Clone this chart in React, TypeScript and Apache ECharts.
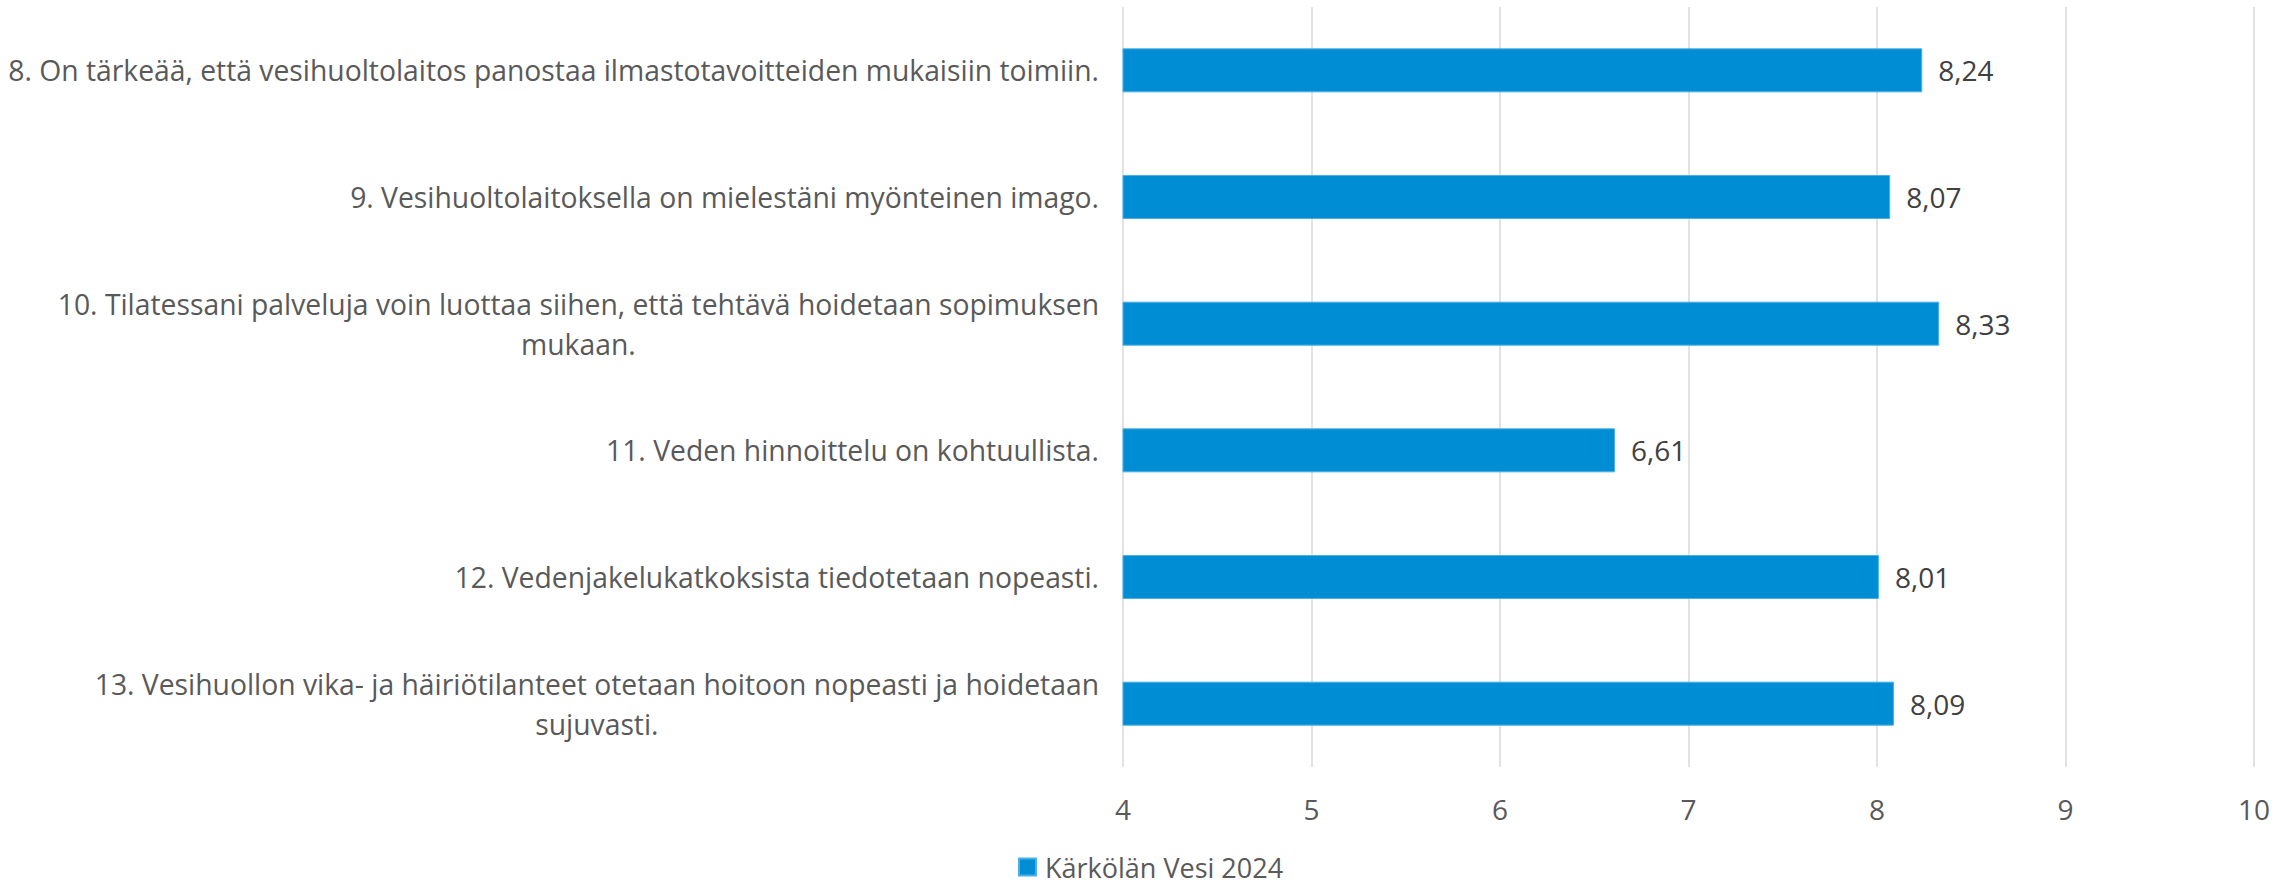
import React, { useEffect, useRef } from "react";
import * as echarts from "echarts";

const categories: string[] = [
  "8. On tärkeää, että vesihuoltolaitos panostaa ilmastotavoitteiden mukaisiin toimiin.",
  "9. Vesihuoltolaitoksella on mielestäni myönteinen imago.",
  "10. Tilatessani palveluja voin luottaa siihen, että tehtävä hoidetaan sopimuksen\nmukaan.",
  "11. Veden hinnoittelu on kohtuullista.",
  "12. Vedenjakelukatkoksista tiedotetaan nopeasti.",
  "13. Vesihuollon vika- ja häiriötilanteet otetaan hoitoon nopeasti ja hoidetaan\nsujuvasti.",
];
const seriesName = "Kärkölän Vesi 2024";
const values: number[] = [8.24, 8.07, 8.33, 6.61, 8.01, 8.09];
const axisMin = 4;
const axisMax = 10;
const axisInterval = 1;

const FONT = "'Open Sans', 'Noto Sans', sans-serif";

export default function App() {
  const ref = useRef<HTMLDivElement>(null);
  useEffect(() => {
    if (!ref.current) return;
    const chart = echarts.init(ref.current, undefined, { renderer: "svg" });
    chart.setOption({
      animation: false,
      textStyle: { fontFamily: FONT },
      grid: { left: 1123, right: 38, top: 7, bottom: 117, containLabel: false },
      legend: {
        data: [seriesName],
        left: 1018,
        top: 852,
        padding: 0,
        icon: "rect",
        itemWidth: 17,
        itemHeight: 17,
        textStyle: {
          fontFamily: FONT,
          fontSize: 27,
          lineHeight: 30,
          color: "#595959",
          padding: [0, 0, 0, 4],
        },
      },
      xAxis: {
        type: "value",
        min: axisMin,
        max: axisMax,
        interval: axisInterval,
        axisLine: { show: false },
        axisTick: { show: false },
        splitLine: { show: true, lineStyle: { color: "#d9d9d9", width: 1.5 } },
        axisLabel: { fontFamily: FONT, fontSize: 28, color: "#595959", margin: 28 },
      },
      yAxis: {
        type: "category",
        inverse: true,
        data: categories,
        axisLine: { show: false },
        axisTick: { show: false },
        axisLabel: {
          interval: 0,
          margin: 24,
          align: "right",
          fontFamily: FONT,
          fontSize: 28.3,
          color: "#595959",
          lineHeight: 40,
          formatter: (v: string) =>
            v
              .split("\n")
              .map((l) => `{c|${l}}`)
              .join("\n"),
          rich: {
            c: { align: "center", fontFamily: FONT, fontSize: 28.3, color: "#595959", lineHeight: 40 },
          },
        },
      },
      series: [
        {
          name: seriesName,
          type: "bar",
          data: values,
          barWidth: 44,
          clip: true,
          itemStyle: { color: "#008dd4", borderColor: "#4bb0e6", borderWidth: 1 },
          label: {
            show: true,
            position: "right",
            distance: 16,
            fontFamily: FONT,
            fontSize: 28,
            color: "#404040",
            formatter: (p: any) => Number(p.value).toFixed(2).replace(".", ","),
          },
        },
      ],
    });
    return () => chart.dispose();
  }, []);
  return (
    <div
      ref={ref}
      style={{ position: "fixed", left: 0, top: 0, width: 2292, height: 884, background: "#fff" }}
    />
  );
}
